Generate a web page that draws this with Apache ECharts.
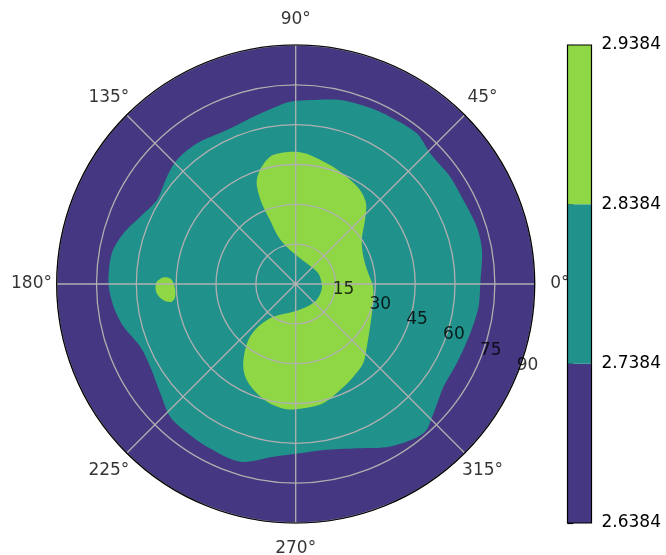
<!DOCTYPE html>
<html>
<head>
<meta charset="utf-8">
<script src="https://cdn.jsdelivr.net/npm/echarts@6/dist/echarts.min.js"></script>
<style>
  html, body { margin: 0; background: #fff; }
  #chart { width: 666px; height: 555px; }
</style>
</head>
<body>
<div id="chart"></div>
<script>
// contour levels and fill colours (viridis)
const levels = [2.6384, 2.7384, 2.8384, 2.9384];
const colors = ['#453781', '#21918c', '#8fd744'];

// polar axis ticks
const angleTicks = [0, 45, 90, 135, 180, 225, 270, 315];
const radiusTicks = [15, 30, 45, 60, 75, 90];
const radiusMax = 90;

// boundary of the 2.7384 level (angle in degrees, radius)
const tealAngle = [0, 10.3, 17.5, 26.6, 34.8, 44.2, 51.2, 60.5, 68.1, 76.4, 85.5, 91.7, 94.9,
  104.2, 114.1, 125.1, 133.8, 140.2, 148.8, 156.6, 163.6, 170.5, 179.8, 187.1, 193.9, 202,
  209.6, 218.9, 226.6, 232.5, 241.4, 252.7, 262.7, 271.5, 279.5, 290.4, 300.2, 310.6, 316.8,
  325.2, 333.8, 344.2, 352.9];
const tealRadius = [69.5, 71.3, 71.5, 70.6, 70.8, 70.6, 72.8, 72.3, 71.9, 71.3, 69.5, 68.7, 67.7,
  65, 63.5, 64.7, 64.7, 63.1, 61.1, 63.8, 67.6, 70.2, 70.5, 69.1, 66.8, 63.1,
  63, 65.5, 68.8, 69.3, 69.8, 70.1, 65.6, 63.8, 63.4, 66, 70.8, 74, 71.2,
  67.8, 67.6, 68.3, 69.4];

// boundary of the 2.8384 level, S-shaped region
const greenAngle = [89.6, 83.7, 73.9, 64.6, 55.6, 48.9, 42.7, 33.7, 22, 8.4, 358, 343.6, 330.1,
  318.6, 310.4, 301.9, 292.7, 283, 273.5, 265.9, 257.8, 250.4, 243, 237.6, 232.5, 229.1, 229,
  235.6, 265, 295.9, 322.7, 347, 1.5, 25.3, 62, 99.5, 110.2, 111.9, 112.8, 111.2, 107.4, 101.4, 95.4];
const greenRadius = [49.8, 48.9, 46.6, 44.7, 42.9, 40.3, 35.5, 29.9, 27.5, 27.6, 29.2, 30.2, 32.3,
  35.7, 39.2, 41.1, 43.3, 46.1, 46.9, 47.3, 46, 43.7, 40.6, 36.9, 31.3, 26.3, 20.5,
  14.9, 10.5, 9.5, 9.9, 10, 9.8, 9.4, 8.8, 13, 19, 26, 33, 40.7, 45, 48.9, 49.7];

// small island of the 2.8384 level near 180°
const blobAngle = [177.2, 177.7, 181.9, 186.6, 188.2, 186.9, 183.7, 179.6];
const blobRadius = [50.0, 47.0, 45.5, 45.8, 47.5, 50.3, 52.5, 52.6];

var chart = echarts.init(document.getElementById('chart'));

var font = 'DejaVu Sans';
var labelR = 99.5;
var rLabelAngle = 337.5;

function region(angles, radii, color) {
  return {
    type: 'custom',
    coordinateSystem: 'polar',
    silent: true,
    z: 2,
    data: angles.map(function (a, i) { return [radii[i], a]; }),
    renderItem: function (params, api) {
      if (params.dataIndex !== 0) return null;
      var pts = angles.map(function (a, i) { return api.coord([radii[i], a]); });
      return {
        type: 'polygon',
        shape: { points: pts, smooth: 0.3 },
        style: { fill: color }
      };
    }
  };
}

var option = {
  animation: false,
  polar: { center: [295.7, 284], radius: 239 },
  angleAxis: {
    type: 'value', min: 0, max: 360, interval: 45,
    startAngle: 0, clockwise: false, z: 4,
    axisLine: { lineStyle: { color: '#000', width: 1.2 } },
    axisTick: { show: false },
    axisLabel: { show: false },
    splitLine: { lineStyle: { color: '#b0b0b0', width: 1.3 } }
  },
  radiusAxis: {
    type: 'value', min: 0, max: radiusMax, interval: 15, z: 3,
    axisLine: { show: false },
    axisTick: { show: false },
    axisLabel: { show: false },
    splitLine: { lineStyle: { color: '#b0b0b0', width: 1.3 } }
  },
  grid: {
    left: 567.5, top: 45, width: 24, height: 478,
    show: true, borderColor: '#000', borderWidth: 1.2,
    backgroundColor: 'rgba(0,0,0,0)', z: 5
  },
  xAxis: { type: 'value', min: 0, max: 1, show: false },
  yAxis: {
    type: 'value', position: 'right',
    min: levels[0], max: levels[levels.length - 1],
    axisLine: { show: false },
    splitLine: { show: false },
    axisTick: { show: true, length: 5.8, customValues: levels, lineStyle: { color: '#000', width: 1.2 } },
    axisLabel: {
      customValues: levels, margin: 10, fontSize: 17, fontFamily: font, color: '#000',
      formatter: function (v) { return v.toFixed(4); }
    }
  },
  series: [
    {
      // background level fills the whole disc
      type: 'custom',
      coordinateSystem: 'polar',
      silent: true,
      z: 1,
      data: [[radiusMax, 0]],
      renderItem: function (params, api) {
        var c = api.coord([0, 0]);
        var e = api.coord([api.value(0), 0]);
        return {
          type: 'circle',
          shape: { cx: c[0], cy: c[1], r: Math.hypot(e[0] - c[0], e[1] - c[1]) },
          style: { fill: colors[0] }
        };
      }
    },
    region(tealAngle, tealRadius, colors[1]),
    region(greenAngle, greenRadius, colors[2]),
    region(blobAngle, blobRadius, colors[2]),
    {
      // angle tick labels
      type: 'scatter',
      coordinateSystem: 'polar',
      clip: false, silent: true, z: 10,
      symbolSize: 1,
      itemStyle: { color: 'rgba(0,0,0,0)' },
      data: angleTicks.map(function (a) { return [labelR, a]; }),
      label: {
        show: true, position: 'inside', fontSize: 17, fontFamily: font, color: '#000',
        formatter: function (p) { return p.value[1] + '°'; }
      }
    },
    {
      // radius tick labels
      type: 'scatter',
      coordinateSystem: 'polar',
      clip: false, silent: true, z: 10,
      symbolSize: 1,
      itemStyle: { color: 'rgba(0,0,0,0)' },
      data: radiusTicks.map(function (r) { return [r, rLabelAngle]; }),
      label: {
        show: true, position: 'inside', offset: [11, -10],
        fontSize: 17, fontFamily: font, color: '#000',
        formatter: function (p) { return String(p.value[0]); }
      }
    },
    {
      // colorbar
      type: 'custom',
      coordinateSystem: 'cartesian2d',
      silent: true,
      data: colors.map(function (c, i) { return [0, levels[i], levels[i + 1]]; }),
      encode: { x: 0, y: [1, 2] },
      renderItem: function (params, api) {
        var p0 = api.coord([0, api.value(1)]);
        var p1 = api.coord([1, api.value(2)]);
        return {
          type: 'rect',
          shape: { x: p0[0], y: p1[1], width: p1[0] - p0[0], height: p0[1] - p1[1] },
          style: { fill: colors[params.dataIndex] }
        };
      }
    }
  ]
};

chart.setOption(option);
</script>
</body>
</html>
